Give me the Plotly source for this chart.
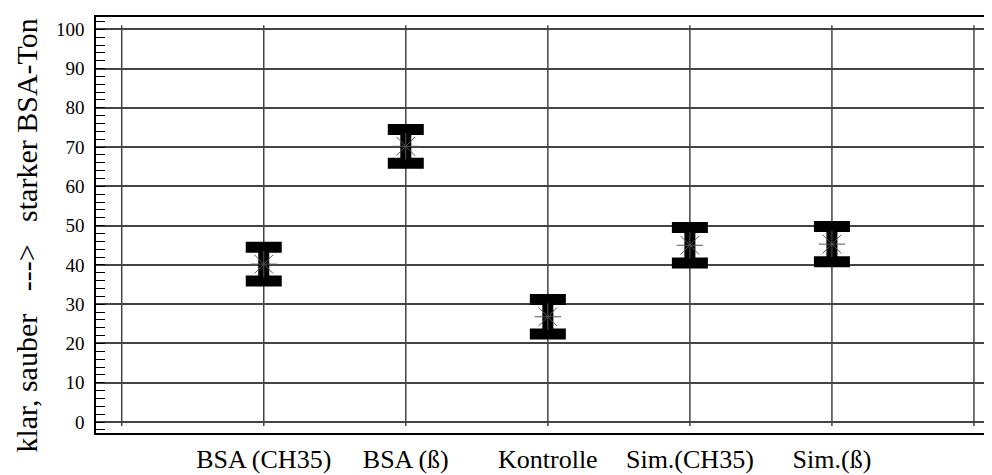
import plotly.graph_objects as go

# ---- data ----
categories = ["BSA (CH35)", "BSA (ß)", "Kontrolle", "Sim.(CH35)", "Sim.(ß)"]
means = [40.2, 70.2, 26.8, 45.0, 45.3]
errors = [4.3, 4.3, 4.4, 4.5, 4.5]
y_ticks = [0, 10, 20, 30, 40, 50, 60, 70, 80, 90, 100]
y_title = "klar, sauber\u00a0\u00a0\u00a0--->\u00a0\u00a0\u00a0starker BSA-Ton"

x_pos = list(range(1, len(categories) + 1))
grid_x = list(range(0, len(categories) + 2))

FONT = "Liberation Serif"

fig = go.Figure()
fig.add_trace(go.Scatter(
    x=x_pos, y=means, mode="markers",
    marker=dict(symbol="asterisk-open", size=22, color="#555",
                line=dict(width=1, color="#555")),
    error_y=dict(type="data", array=errors, visible=True, color="black",
                 thickness=11, width=18),
    showlegend=False,
))

for gx in grid_x:
    fig.add_shape(type="line", xref="x", yref="y", x0=gx, x1=gx, y0=-1, y1=101,
                  line=dict(color="#444", width=1.5), layer="below")

fig.add_annotation(text=y_title, textangle=-90, xref="paper", yref="paper",
                   x=-0.0775, y=0.4736, xanchor="center", yanchor="middle",
                   showarrow=False, borderpad=0,
                   font=dict(family=FONT, size=30, color="black"))

# page body has an 8px default margin, so the figure is 8px smaller
fig.update_layout(
    width=984, height=467,
    margin=dict(l=88, r=0, t=9, b=42),
    paper_bgcolor="white", plot_bgcolor="white",
    font=dict(family=FONT, color="black"),
    xaxis=dict(range=[-0.181, 6.127], tickvals=x_pos, ticktext=categories,
               showgrid=False, zeroline=False, showline=True, mirror=True,
               linecolor="black", linewidth=1.5, ticks="",
               tickfont=dict(family=FONT, size=26, color="black"),
               ticklabelstandoff=2),
    yaxis=dict(range=[-2.8, 103.13], tickvals=y_ticks, showgrid=True,
               gridcolor="#444", gridwidth=1.5, zeroline=False, showline=True,
               linecolor="black", linewidth=1.5, ticks="inside", ticklen=9,
               tickcolor="black",
               minor=dict(dtick=2, ticks="inside", ticklen=9, tickcolor="black",
                          showgrid=False),
               tickfont=dict(family=FONT, size=19, color="black"),
               ticklabelstandoff=6),
)

fig.write_html("out.html")
